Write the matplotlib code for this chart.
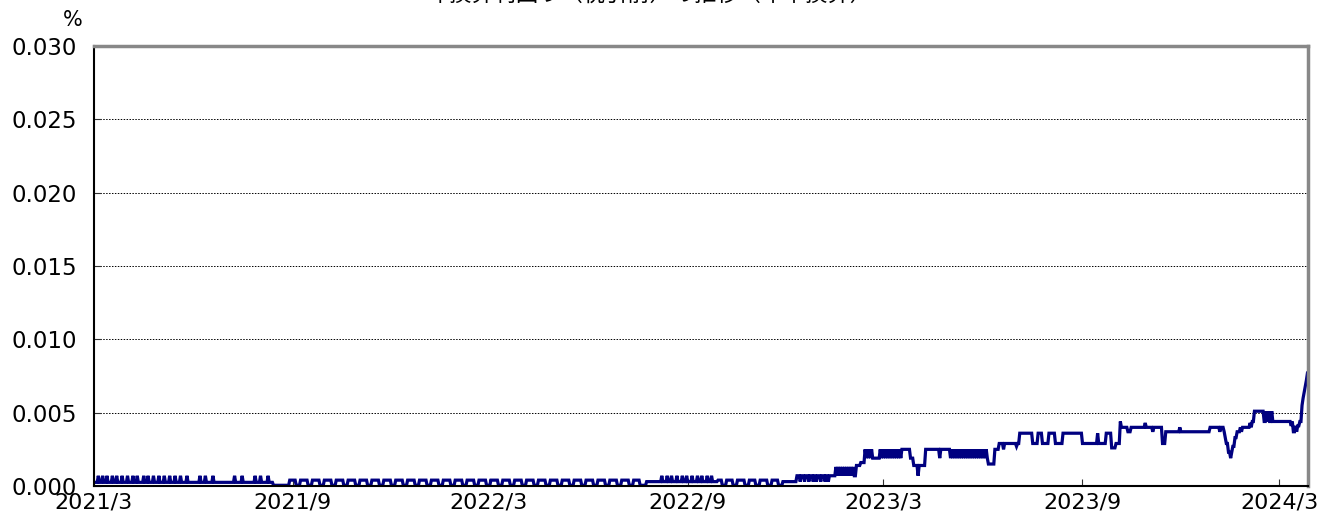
import numpy as np
import pandas as pd
import matplotlib
matplotlib.use("Agg")
import matplotlib.pyplot as plt

plt.rcParams['font.family'] = ['Noto Sans CJK JP', 'DejaVu Sans']

title = "年換算利回り（税引前）の推移（年率換算）"
start = "2021-03-01"

# 水準の変化点 (2021/3/1 からの日数, %)
step_day = [0, 166, 181,
            187, 191, 198, 202, 209, 213, 220, 224, 231, 235, 242, 246, 253, 257,
            264, 268, 275, 279, 286, 290, 297, 301, 308, 312, 319, 323, 330, 334,
            341, 345, 352, 356, 363, 367, 374, 378, 385, 389, 396, 400, 407, 411,
            418, 422, 429, 433, 440, 444, 451, 455, 462, 466, 473, 477, 484, 488,
            495, 499, 505, 511,
            577, 581, 585, 591, 595, 602, 606, 612, 616, 623, 627, 633, 637,
            650, 705, 709, 713, 747, 755, 758, 769, 791, 827, 833, 837, 856, 868,
            873, 877, 883, 889, 896, 914, 936, 941, 945, 950, 956, 959, 988, 991,
            1032, 1046, 1047, 1049, 1051, 1052, 1053, 1055, 1057, 1060, 1071, 1073,
            1082, 1090, 1109, 1113, 1115, 1117, 1118, 1119, 1120, 1121, 1122]
step_val = [0.00025, 0.00005, 0.0004,
            0.00005, 0.0004, 0.00005, 0.0004, 0.00005, 0.0004, 0.00005, 0.0004,
            0.00005, 0.0004, 0.00005, 0.0004, 0.00005, 0.0004,
            0.00005, 0.0004, 0.00005, 0.0004, 0.00005, 0.0004, 0.00005, 0.0004,
            0.00005, 0.0004, 0.00005, 0.0004, 0.00005, 0.0004,
            0.00005, 0.0004, 0.00005, 0.0004, 0.00005, 0.0004, 0.00005, 0.0004,
            0.00005, 0.0004, 0.00005, 0.0004, 0.00005, 0.0004,
            0.00005, 0.0004, 0.00005, 0.0004, 0.00005, 0.0004, 0.00005, 0.0004,
            0.00005, 0.0004, 0.00005, 0.0004, 0.00005, 0.0004,
            0.00005, 0.0004, 0.00005, 0.0003,
            0.0004, 0.00005, 0.0004, 0.00005, 0.0004, 0.00005, 0.0004, 0.00005,
            0.0004, 0.00005, 0.0004, 0.00005, 0.0003,
            0.0007, 0.0014, 0.0016, 0.0019, 0.0025, 0.0019, 0.0014, 0.0025, 0.0019,
            0.0015, 0.0025, 0.0029, 0.0036, 0.0029,
            0.0036, 0.0029, 0.0036, 0.0029, 0.0036, 0.0029, 0.0036, 0.0026, 0.0029,
            0.0040, 0.0037, 0.0040, 0.0029, 0.0037,
            0.0040, 0.0033, 0.0029, 0.0023, 0.0019, 0.0023, 0.0027, 0.0033, 0.0037,
            0.0040, 0.0044, 0.0051,
            0.0044, 0.0044, 0.0037, 0.0041, 0.0044, 0.0055, 0.0060, 0.0064, 0.0068,
            0.0072, 0.0077]

# 1日だけの上下 (日数, %)
spike_day = [4, 8, 12, 17, 21, 26, 31, 36, 40, 46, 50, 55, 60, 65, 70, 75, 80,
             86, 98, 103, 110, 130, 137, 149, 154, 161,
             525, 530, 534, 539, 544, 548, 553, 558, 562, 567, 571,
             653, 657, 661, 665, 668, 672, 676, 679,
             686, 688, 690, 692, 694, 696, 698, 700, 702, 704,
             713, 715, 717, 719,
             727, 729, 731, 733, 735, 737, 739, 741, 743, 745,
             762, 782,
             791, 793, 795, 797, 799, 801, 803, 805, 807, 809, 811, 813, 815, 817,
             819, 821, 823, 825,
             841, 853, 928, 949, 972, 979, 1004, 1041, 1045, 1061, 1069,
             1084, 1086, 1089, 1107, 1111]
spike_val = [0.0007] * 26 + [0.0007] * 11 + [0.0003] * 8 + \
            [0.0013] * 9 + [0.0007] + \
            [0.0025] * 4 + [0.0025] * 10 + \
            [0.0007, 0.0019] + [0.0025] * 18 + \
            [0.0025, 0.0027, 0.0036, 0.0044, 0.0043, 0.0037, 0.0040, 0.0037,
             0.0037, 0.0037, 0.0043,
             0.0051, 0.0051, 0.0051, 0.0041, 0.0041]

days = np.arange(0, step_day[-1] + 1)
idx = np.searchsorted(step_day, days, side='right') - 1
vals = np.array(step_val)[idx]
for d, v in zip(spike_day, spike_val):
    vals[d] = v
dates = pd.Timestamp(start) + pd.to_timedelta(days, unit='D')

fig = plt.figure(figsize=(13.2, 5.16), dpi=100)
ax = fig.add_axes([0.0712, 0.0581, 0.9197, 0.8528])

ax.plot(dates, vals, color='#000080', lw=2.3, solid_joinstyle='miter')

ax.set_ylim(0, 0.030)
ax.set_yticks(np.arange(0, 0.0301, 0.005))
ax.yaxis.set_major_formatter(matplotlib.ticker.FormatStrFormatter('%.3f'))
ax.set_xlim(pd.Timestamp(start), pd.Timestamp(start) + pd.Timedelta(days=1122.5))
ticks = pd.to_datetime(["2021-03-01", "2021-09-01", "2022-03-01", "2022-09-01",
                        "2023-03-01", "2023-09-01", "2024-03-01"])
ax.set_xticks(ticks)
ax.set_xticklabels([f"{t.year}/{t.month}" for t in ticks])

ax.grid(axis='y', color='black', linestyle=(0, (1.5, 1.5)), lw=0.7)
ax.tick_params(axis='both', direction='in', length=5, color='#333333')
ax.tick_params(axis='x', pad=5, labelsize=16)
ax.tick_params(axis='y', pad=12, labelsize=16.5)
for lab in ax.get_xticklabels() + ax.get_yticklabels():
    lab.set_family('DejaVu Sans')

for s in ['left', 'bottom']:
    ax.spines[s].set_color('black')
    ax.spines[s].set_linewidth(1.5)
for s in ['top', 'right']:
    ax.spines[s].set_color('#888888')
    ax.spines[s].set_linewidth(2.5)

fig.text(73 / 1320, 1 - 20 / 516, "%", fontsize=15, ha='center', va='center',
         family='DejaVu Sans')
fig.text(0.493, 1 - 6 / 516, title, fontsize=16, ha='center', va='bottom')

fig.savefig("out.png", dpi=100)
